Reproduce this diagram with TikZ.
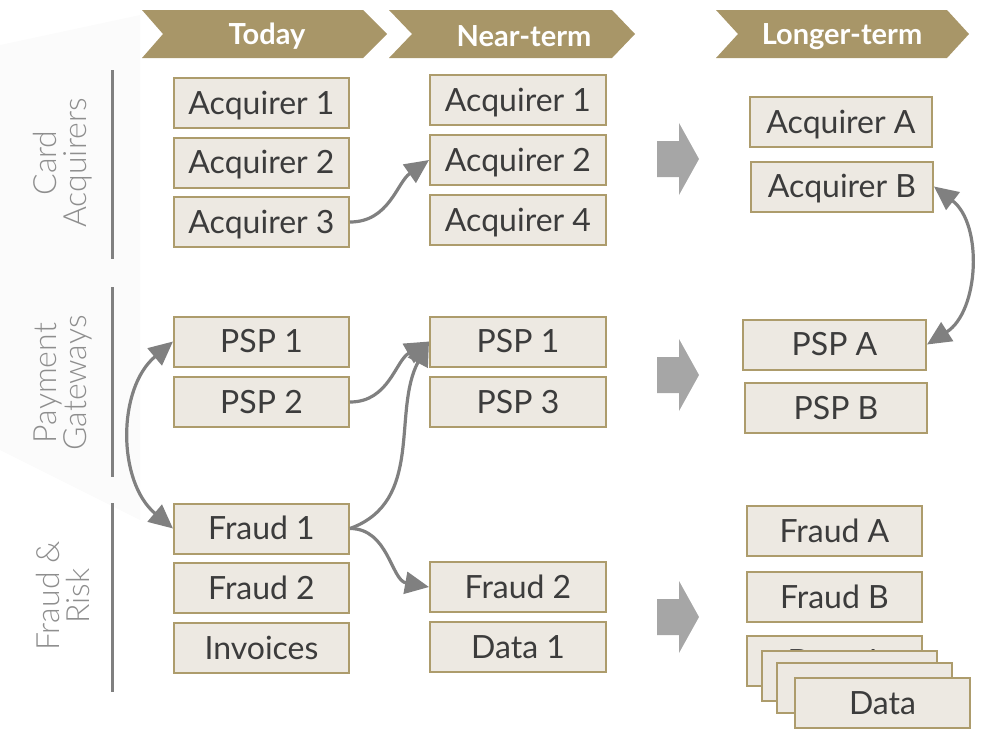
\documentclass[tikz,border=0pt]{standalone}
\usepackage{fontspec}
\setmainfont{Lato}
\newfontfamily\sidefont{Lato Light}
\usetikzlibrary{arrows.meta}

\definecolor{tan}{HTML}{A89668}
\definecolor{boxline}{HTML}{AD9C6C}
\definecolor{boxfill}{HTML}{EDE9E2}
\definecolor{boxtext}{HTML}{3C3C3C}
\definecolor{linkgray}{HTML}{808080}
\definecolor{blockgray}{HTML}{A6A6A6}
\definecolor{sidegray}{HTML}{8E8E8E}

\begin{document}
\begin{tikzpicture}[x=1pt,y=1pt,
  card/.style={draw=boxline, fill=boxfill, line width=2pt, minimum width=175pt,
    minimum height=50pt, inner sep=0pt, text=boxtext, text height=22pt, text depth=0pt,
    font=\fontsize{32}{33}\selectfont},
  headtext/.style={text=white, font=\fontsize{29}{30}\selectfont\bfseries},
  sidelabel/.style={rotate=90, align=center, text=sidegray, font=\sidefont\fontsize{32}{30}\selectfont},
  divider/.style={draw=linkgray, line width=3pt},
  link/.style={draw=linkgray, line width=3.2pt, -{Triangle[length=24pt,width=22pt]}},
  twoway/.style={draw=linkgray, line width=3.2pt, {Triangle[length=24pt,width=22pt]}-{Triangle[length=24pt,width=22pt]}},
  blockarrow/.style={fill=blockgray}
]
\useasboundingbox (0,0) rectangle (992,-728);

% faint backdrop on the left edge
\fill[black!1.5] (0,-45) -- (140,-15) -- (140,-520) -- (0,-450) -- cycle;

% column header chevrons
\fill[tan] (142,-10) -- (363,-10) -- (387,-34) -- (363,-58) -- (142,-58) -- (163,-34) -- cycle;
\fill[tan] (389,-10) -- (612,-10) -- (635,-34) -- (612,-58) -- (389,-58) -- (412,-34) -- cycle;
\fill[tan] (716,-10) -- (947,-10) -- (969,-34) -- (947,-58) -- (716,-58) -- (738,-34) -- cycle;
\node[headtext] (hToday) at (267,-36.5) {Today};
\node[headtext] (hNear) at (524,-36.5) {Near-term};
\node[headtext] (hLong) at (842,-36.5) {Longer-term};

% row labels and dividers
\node[sidelabel] (lCard) at (63,-163) {Card\\Acquirers};
\node[sidelabel] (lPay) at (63,-383) {Payment\\Gateways};
\node[sidelabel] (lFraud) at (63,-596) {Fraud \&\\Risk};
\draw[divider] (112,-70) -- (112,-259);
\draw[divider] (112,-287) -- (112,-477);
\draw[divider] (112,-503) -- (112,-692);

% today
\node[card] (a1) at (261.5,-103) {Acquirer 1};
\node[card] (a2) at (261.5,-162.5) {Acquirer 2};
\node[card] (a3) at (261.5,-222) {Acquirer 3};
\node[card] (p1) at (261.5,-341.5) {PSP 1};
\node[card] (p2) at (261.5,-402) {PSP 2};
\node[card] (f1) at (261.5,-528.5) {Fraud 1};
\node[card] (f2) at (261.5,-588) {Fraud 2};
\node[card] (inv) at (261.5,-648) {Invoices};

% near-term
\node[card, minimum width=176pt] (na1) at (518,-100) {Acquirer 1};
\node[card, minimum width=176pt] (na2) at (518,-160) {Acquirer 2};
\node[card, minimum width=176pt] (na4) at (518,-220) {Acquirer 4};
\node[card, minimum width=176pt] (np1) at (518,-341.5) {PSP 1};
\node[card, minimum width=176pt] (np3) at (518,-402) {PSP 3};
\node[card, minimum width=176pt] (nf2) at (518,-587) {Fraud 2};
\node[card, minimum width=176pt] (nd1) at (518,-647) {Data 1};

% longer-term
\node[card, minimum width=182pt] (la) at (841,-122) {Acquirer A};
\node[card, minimum width=182pt] (lb) at (842,-186.5) {Acquirer B};
\node[card, minimum width=183pt] (lpa) at (834.5,-344.5) {PSP A};
\node[card, minimum width=182pt] (lpb) at (836,-408) {PSP B};
\node[card] (lfa) at (834.5,-531) {Fraud A};
\node[card] (lfb) at (834.5,-597) {Fraud B};
\node[card] (ld1) at (834.5,-661) {Data 1};
\node[card] (ld2) at (849.5,-676) {};
\node[card] (ld3) at (864.5,-688) {};
\node[card] (ld4) at (882.5,-703) {Data};

% transition block arrows
\fill[blockarrow] (657,-141) -- (679,-141) -- (679,-123) -- (699,-159) -- (679,-195) -- (679,-177) -- (657,-177) -- cycle;
\fill[blockarrow] (657,-357) -- (679,-357) -- (679,-339) -- (699,-375) -- (679,-411) -- (679,-393) -- (657,-393) -- cycle;
\fill[blockarrow] (657,-599) -- (679,-599) -- (679,-581) -- (699,-617) -- (679,-653) -- (679,-635) -- (657,-635) -- cycle;

% moves between providers
\draw[link] (a3.east) to[out=0, in=215] (na2.west);
\draw[link] (p2.east) to[out=0, in=210] (np1.west);
\draw[link] (f1.east) to[out=20, in=242] (np1.west);
\draw[link] (f1.east) to[out=0, in=170] (nf2.west);
\draw[twoway] (p1.west) to[bend right=50] (f1.west);
\draw[twoway] (lb.east) to[bend left=55] (lpa.east);
\end{tikzpicture}
\end{document}
